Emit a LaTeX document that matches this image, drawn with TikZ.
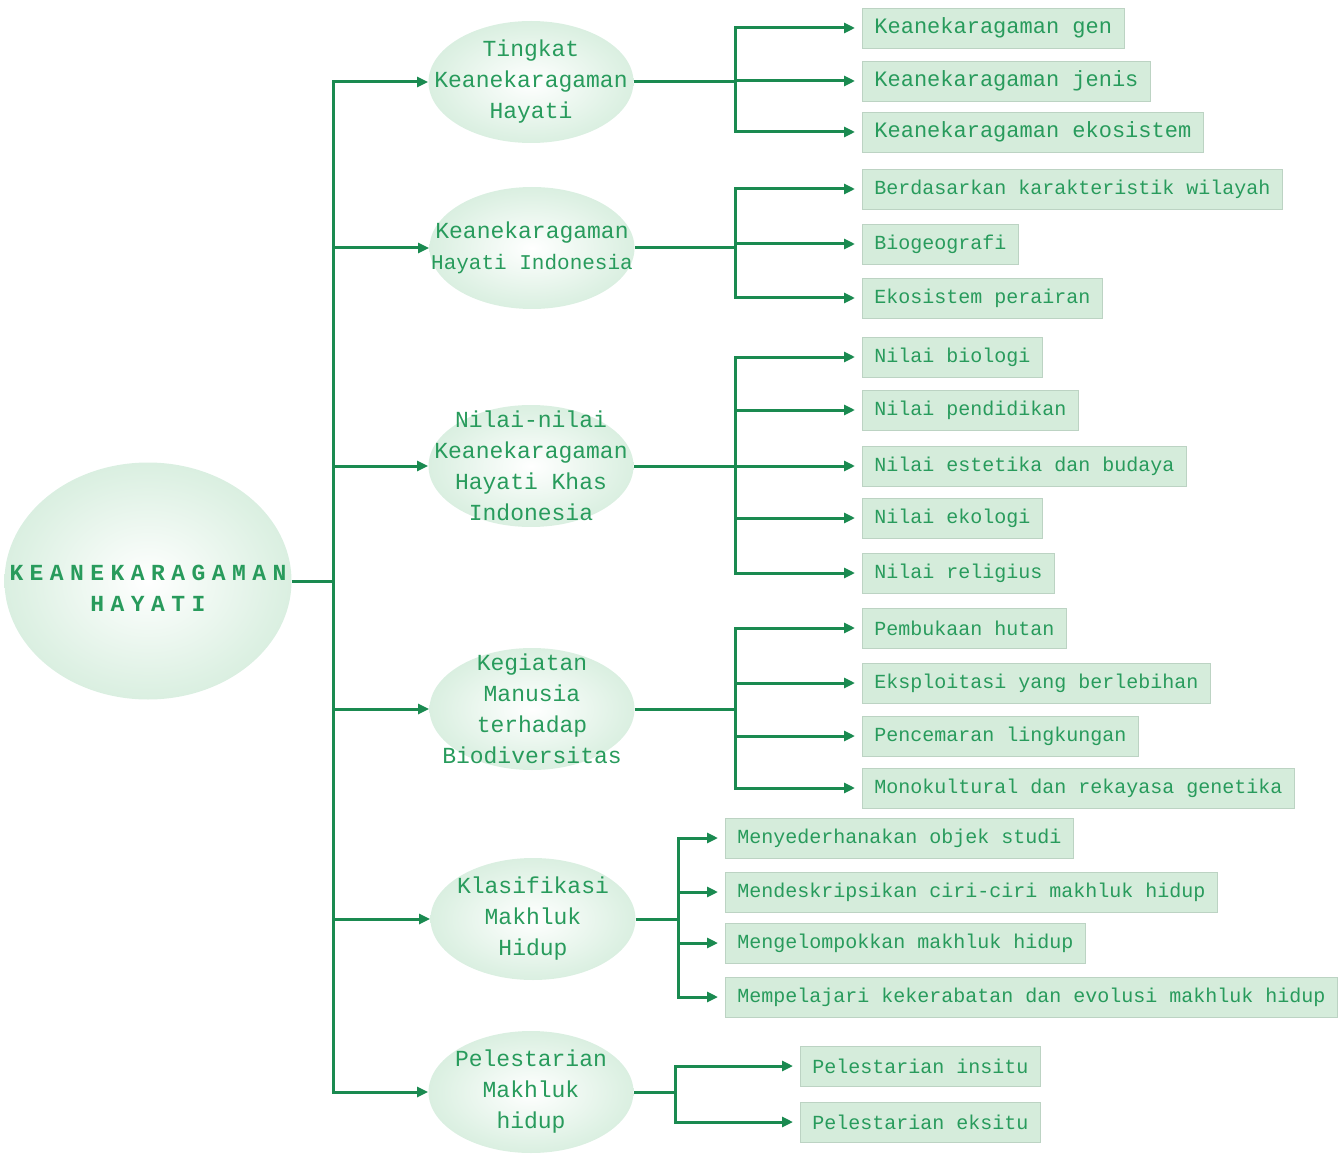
\documentclass[tikz,border=0pt]{standalone}
\usepackage{fontspec}
\setmainfont{Liberation Mono}
\newfontfamily\spacedfont[LetterSpace=28]{Liberation Mono}
\usetikzlibrary{shapes.geometric,arrows.meta}

\definecolor{linegreen}{RGB}{26,138,80}
\definecolor{textgreen}{RGB}{40,155,92}
\definecolor{ellgreen}{RGB}{192,226,203}
\definecolor{ellmid}{RGB}{222,241,228}
\definecolor{boxgreen}{RGB}{213,236,219}
\definecolor{boxedge}{RGB}{188,211,195}

\pgfdeclareradialshading{ellshade}{\pgfpoint{0bp}{0bp}}{color(0bp)=(white); color(22bp)=(ellmid); color(45bp)=(ellgreen); color(50bp)=(ellgreen)}

\tikzset{
  link/.style={draw=linegreen,line width=1.5pt},
  arr/.style={link,-{Triangle[length=5.5pt,width=5pt]}},
  bubbletext/.style={text=textgreen,align=center,inner sep=0pt,font=\fontsize{11.5}{15.5}\selectfont},
  bubble/.style={ellipse,shade,shading=ellshade,minimum width=102.5pt,minimum height=61pt,inner sep=0pt,
    label={[bubbletext]center:#1}},
  leaf/.style={anchor=west,fill=boxgreen,draw=boxedge,line width=0.4pt,text=textgreen,
    minimum height=20pt,inner xsep=6pt,font=\fontsize{10}{12}\selectfont},
  bigleaf/.style={leaf,font=\fontsize{11}{12}\selectfont}
}

\begin{document}
\begin{tikzpicture}[x=0.5pt,y=-0.5pt]
  \useasboundingbox (0,0) rectangle (1344,1155);

  % root
  \node[ellipse,shade,shading=ellshade,minimum width=143.5pt,minimum height=118.5pt,inner sep=0pt,
    label={[bubbletext,yshift=-3.5pt,font=\spacedfont\bfseries\fontsize{11.5}{15.5}\selectfont]center:KEANEKARAGAMAN\\HAYATI}]
    (main) at (148,581) {};
  \coordinate (trunk) at (333,581);
  \draw[link] (main.east) -- (trunk);

  % first level
  \node[bubble={Tingkat\\Keanekaragaman\\Hayati}] (t1) at (531,82) {};
  \node[bubble={Keanekaragaman\\{\fontsize{10.5}{15.5}\selectfont Hayati Indonesia}}] (t2) at (532,248) {};
  \node[bubble={Nilai-nilai\\Keanekaragaman\\Hayati Khas\\Indonesia}] (t3) at (531,466) {};
  \node[bubble={Kegiatan\\Manusia\\terhadap\\Biodiversitas}] (t4) at (532,709) {};
  \node[bubble={Klasifikasi\\Makhluk\\Hidup}] (t5) at (533,919) {};
  \node[bubble={Pelestarian\\Makhluk\\hidup}] (t6) at (531,1092) {};
  \foreach \i in {1,...,6}
    \draw[arr] (trunk) |- (t\i.west);

  % junctions
  \coordinate (j1) at (735,82);
  \coordinate (j2) at (735,248);
  \coordinate (j3) at (735,466);
  \coordinate (j4) at (735,709);
  \coordinate (j5) at (678,919);
  \coordinate (j6) at (675,1092);
  \foreach \i in {1,...,6}
    \draw[link] (t\i.east) -- (j\i);

  % second level
  \foreach \y/\txt [count=\i] in {28/Keanekaragaman gen, 81/Keanekaragaman jenis, 132/Keanekaragaman ekosistem} {
    \node[bigleaf] (a\i) at (862,\y) {\txt};
    \draw[arr,shorten >=3.5pt] (j1) |- (a\i.west);
  }
  \foreach \y/\txt [count=\i] in {189/Berdasarkan karakteristik wilayah, 244/Biogeografi, 298/Ekosistem perairan} {
    \node[leaf] (b\i) at (862,\y) {\txt};
    \draw[arr,shorten >=3.5pt] (j2) |- (b\i.west);
  }
  \foreach \y/\txt [count=\i] in {357/Nilai biologi, 410/Nilai pendidikan, 466/Nilai estetika dan budaya, 518/Nilai ekologi, 573/Nilai religius} {
    \node[leaf] (c\i) at (862,\y) {\txt};
    \draw[arr,shorten >=3.5pt] (j3) |- (c\i.west);
  }
  \foreach \y/\txt [count=\i] in {628/Pembukaan hutan, 683/Eksploitasi yang berlebihan, 736/Pencemaran lingkungan, 788/Monokultural dan rekayasa genetika} {
    \node[leaf] (d\i) at (862,\y) {\txt};
    \draw[arr,shorten >=3.5pt] (j4) |- (d\i.west);
  }
  \foreach \y/\txt [count=\i] in {838/Menyederhanakan objek studi, 892/Mendeskripsikan ciri-ciri makhluk hidup, 943/Mengelompokkan makhluk hidup, 997/Mempelajari kekerabatan dan evolusi makhluk hidup} {
    \node[leaf] (e\i) at (725,\y) {\txt};
    \draw[arr,shorten >=3.5pt] (j5) |- (e\i.west);
  }
  \foreach \y/\txt [count=\i] in {1066/Pelestarian insitu, 1122/Pelestarian eksitu} {
    \node[leaf] (f\i) at (800,\y) {\txt};
    \draw[arr,shorten >=3.5pt] (j6) |- (f\i.west);
  }
\end{tikzpicture}
\end{document}
